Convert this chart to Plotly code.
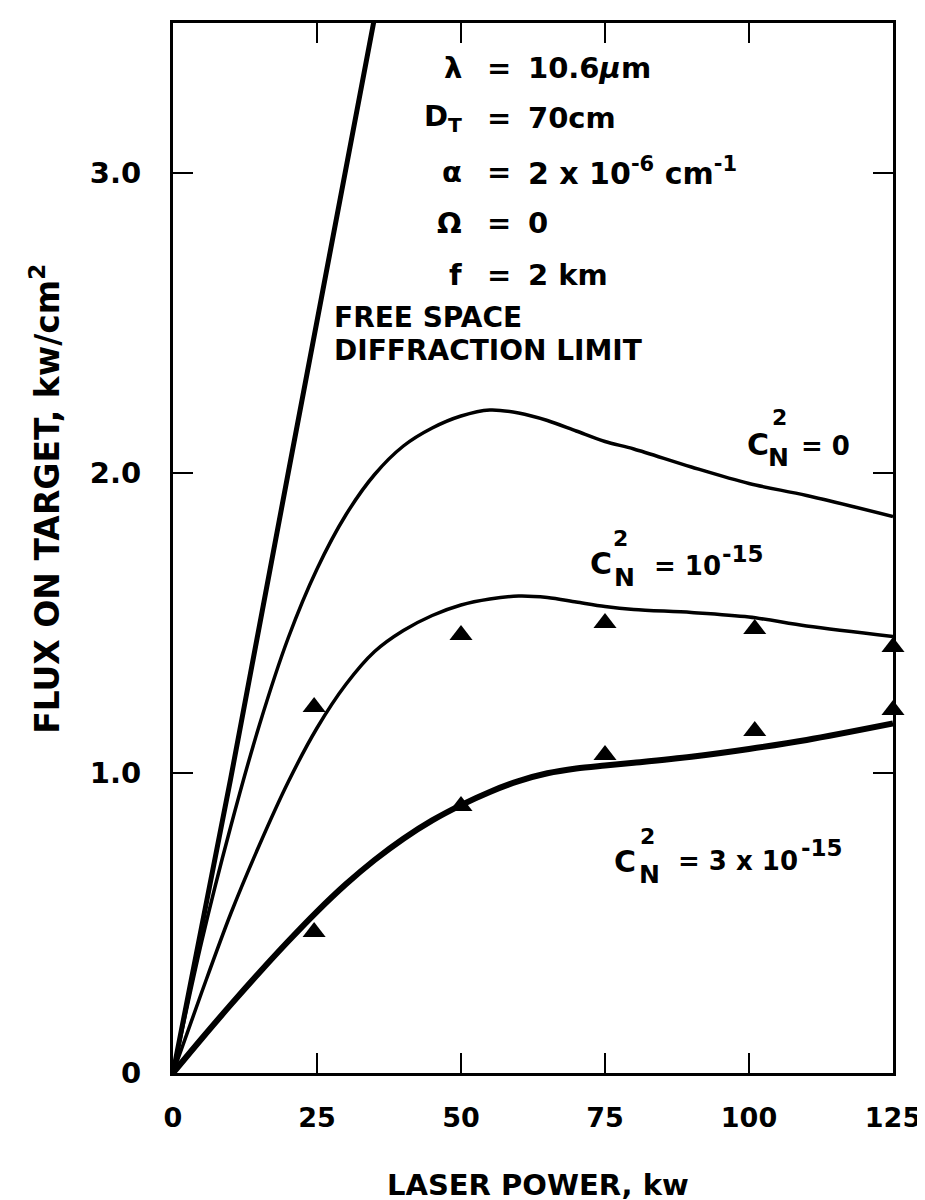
import plotly.graph_objects as go

# ---- data ----
power = [0, 5, 10, 15, 20, 25, 30, 35, 40, 45, 50, 55, 60, 65, 70, 75, 80, 90, 100, 110, 125]

free_x = [0, 10, 20, 30, 36]
free_y = [0, 0.98, 2.0, 3.02, 3.62]

flux_cn0 = [0, 0.44, 0.82, 1.16, 1.45, 1.68, 1.86, 1.995, 2.09, 2.15, 2.19, 2.21, 2.20, 2.175,
            2.14, 2.105, 2.08, 2.02, 1.965, 1.925, 1.855]
flux_cn1 = [0, 0.27, 0.53, 0.76, 0.97, 1.15, 1.295, 1.405, 1.475, 1.525, 1.56, 1.58, 1.59, 1.585,
            1.57, 1.555, 1.545, 1.535, 1.52, 1.49, 1.455]
flux_cn3 = [0, 0.115, 0.227, 0.335, 0.439, 0.538, 0.629, 0.71, 0.781, 0.842, 0.893, 0.937, 0.973,
            0.999, 1.015, 1.025, 1.034, 1.054, 1.08, 1.11, 1.165]

meas_x = [24.5, 50, 75, 101, 125]
meas_cn1 = [1.22, 1.46, 1.50, 1.48, 1.42]
meas_cn3 = [0.47, 0.89, 1.06, 1.14, 1.21]

x_ticks = [0, 25, 50, 75, 100, 125]
x_labels = ["0", "25", "50", "75", "100", "125"]
y_ticks = [0, 1, 2, 3]
y_labels = ["0", "1.0", "2.0", "3.0"]

# ---- layout geometry (pixels) ----
W, H = 925, 1200
L, R, T, B = 165, 30, 13, 135
PW, PH = W - L - R, H - T - B

FONT = "DejaVu Sans, Liberation Sans, sans-serif"


def px(x):
    return (x - L) / PW


def py(y):
    return (H - B - y) / PH


fig = go.Figure()

fig.add_trace(go.Scatter(x=free_x, y=free_y, mode="lines",
                         line=dict(color="black", width=5), showlegend=False))
fig.add_trace(go.Scatter(x=power, y=flux_cn0, mode="lines",
                         line=dict(color="black", width=3.5, shape="spline", smoothing=0.9),
                         showlegend=False))
fig.add_trace(go.Scatter(x=power, y=flux_cn1, mode="lines",
                         line=dict(color="black", width=3.5, shape="spline", smoothing=0.9),
                         showlegend=False))
fig.add_trace(go.Scatter(x=power, y=flux_cn3, mode="lines",
                         line=dict(color="black", width=6, shape="spline", smoothing=0.9),
                         showlegend=False))
fig.add_trace(go.Scatter(x=meas_x, y=meas_cn1, mode="markers", cliponaxis=False,
                         marker=dict(symbol="triangle-up", size=20, color="black"),
                         showlegend=False))
fig.add_trace(go.Scatter(x=meas_x, y=meas_cn3, mode="markers", cliponaxis=False,
                         marker=dict(symbol="triangle-up", size=20, color="black"),
                         showlegend=False))

annotations = []


def ann(text, x, y, size=30, xanchor="left", yanchor="middle", angle=0):
    annotations.append(dict(text=text, x=px(x), y=py(y), xref="paper", yref="paper",
                            xanchor=xanchor, yanchor=yanchor, showarrow=False,
                            textangle=angle, borderpad=0,
                            font=dict(family=FONT, size=size, color="black", weight="bold")))


# parameter block
rows = [58, 108, 162, 213, 265]
syms = ["λ", "D<sub>T</sub>", "α", "Ω", "f"]
vals = ["10.6<i>μ</i>m", "70cm", "2 x 10<sup>-6</sup> cm<sup>-1</sup>", "0", "2 km"]
for yy, s, v in zip(rows, syms, vals):
    ann(s, 459, yy, size=29, xanchor="right")
    ann("=", 496, yy, size=29, xanchor="center")
    ann(v, 524, yy, size=29 if v != vals[2] else 30, xanchor="left")

ann("FREE SPACE", 327, 308, size=28)
ann("DIFFRACTION LIMIT", 327, 341, size=28)

# curve labels
ann("C", 746, 435, size=30)
ann("2", 780, 408, size=22, xanchor="center")
ann("N", 779, 448, size=25, xanchor="center")
ann("= 0", 801, 437, size=26)

ann("C", 587, 555, size=30)
ann("2", 619, 529, size=22, xanchor="center")
ann("N", 623, 569, size=25, xanchor="center")
ann("= 10", 652, 557, size=26)
ann("-15", 721, 545, size=23)

ann("C", 611, 853, size=30)
ann("2", 646, 828, size=22, xanchor="center")
ann("N", 648, 866, size=25, xanchor="center")
ann("= 3 x 10", 676, 853, size=26)
ann("-15", 801, 840, size=23)

# axis titles
ann("FLUX ON TARGET, kw/cm<sup>2</sup>", 35, 490, size=33, xanchor="center", angle=-90)
ann("LASER POWER, kw", 535, 1177, size=29, xanchor="center")

fig.update_layout(
    width=W, height=H,
    margin=dict(l=L, r=R, t=T, b=B),
    paper_bgcolor="white", plot_bgcolor="white",
    annotations=annotations,
    xaxis=dict(range=[0, 125], tickvals=x_ticks, ticktext=x_labels,
               showgrid=False, zeroline=False, showline=True, linecolor="black",
               linewidth=3, mirror="ticks", ticks="inside", ticklen=20, tickwidth=2,
               tickcolor="black", ticklabelstandoff=19, ticklabeloverflow="allow",
               tickfont=dict(family=FONT, size=27, color="black", weight="bold")),
    yaxis=dict(range=[0, 3.5], tickvals=y_ticks, ticktext=y_labels,
               showgrid=False, zeroline=False, showline=True, linecolor="black",
               linewidth=3, mirror="ticks", ticks="inside", ticklen=20, tickwidth=2,
               tickcolor="black", ticklabelstandoff=23,
               tickfont=dict(family=FONT, size=29, color="black", weight="bold")),
)

fig.write_html("out.html")
